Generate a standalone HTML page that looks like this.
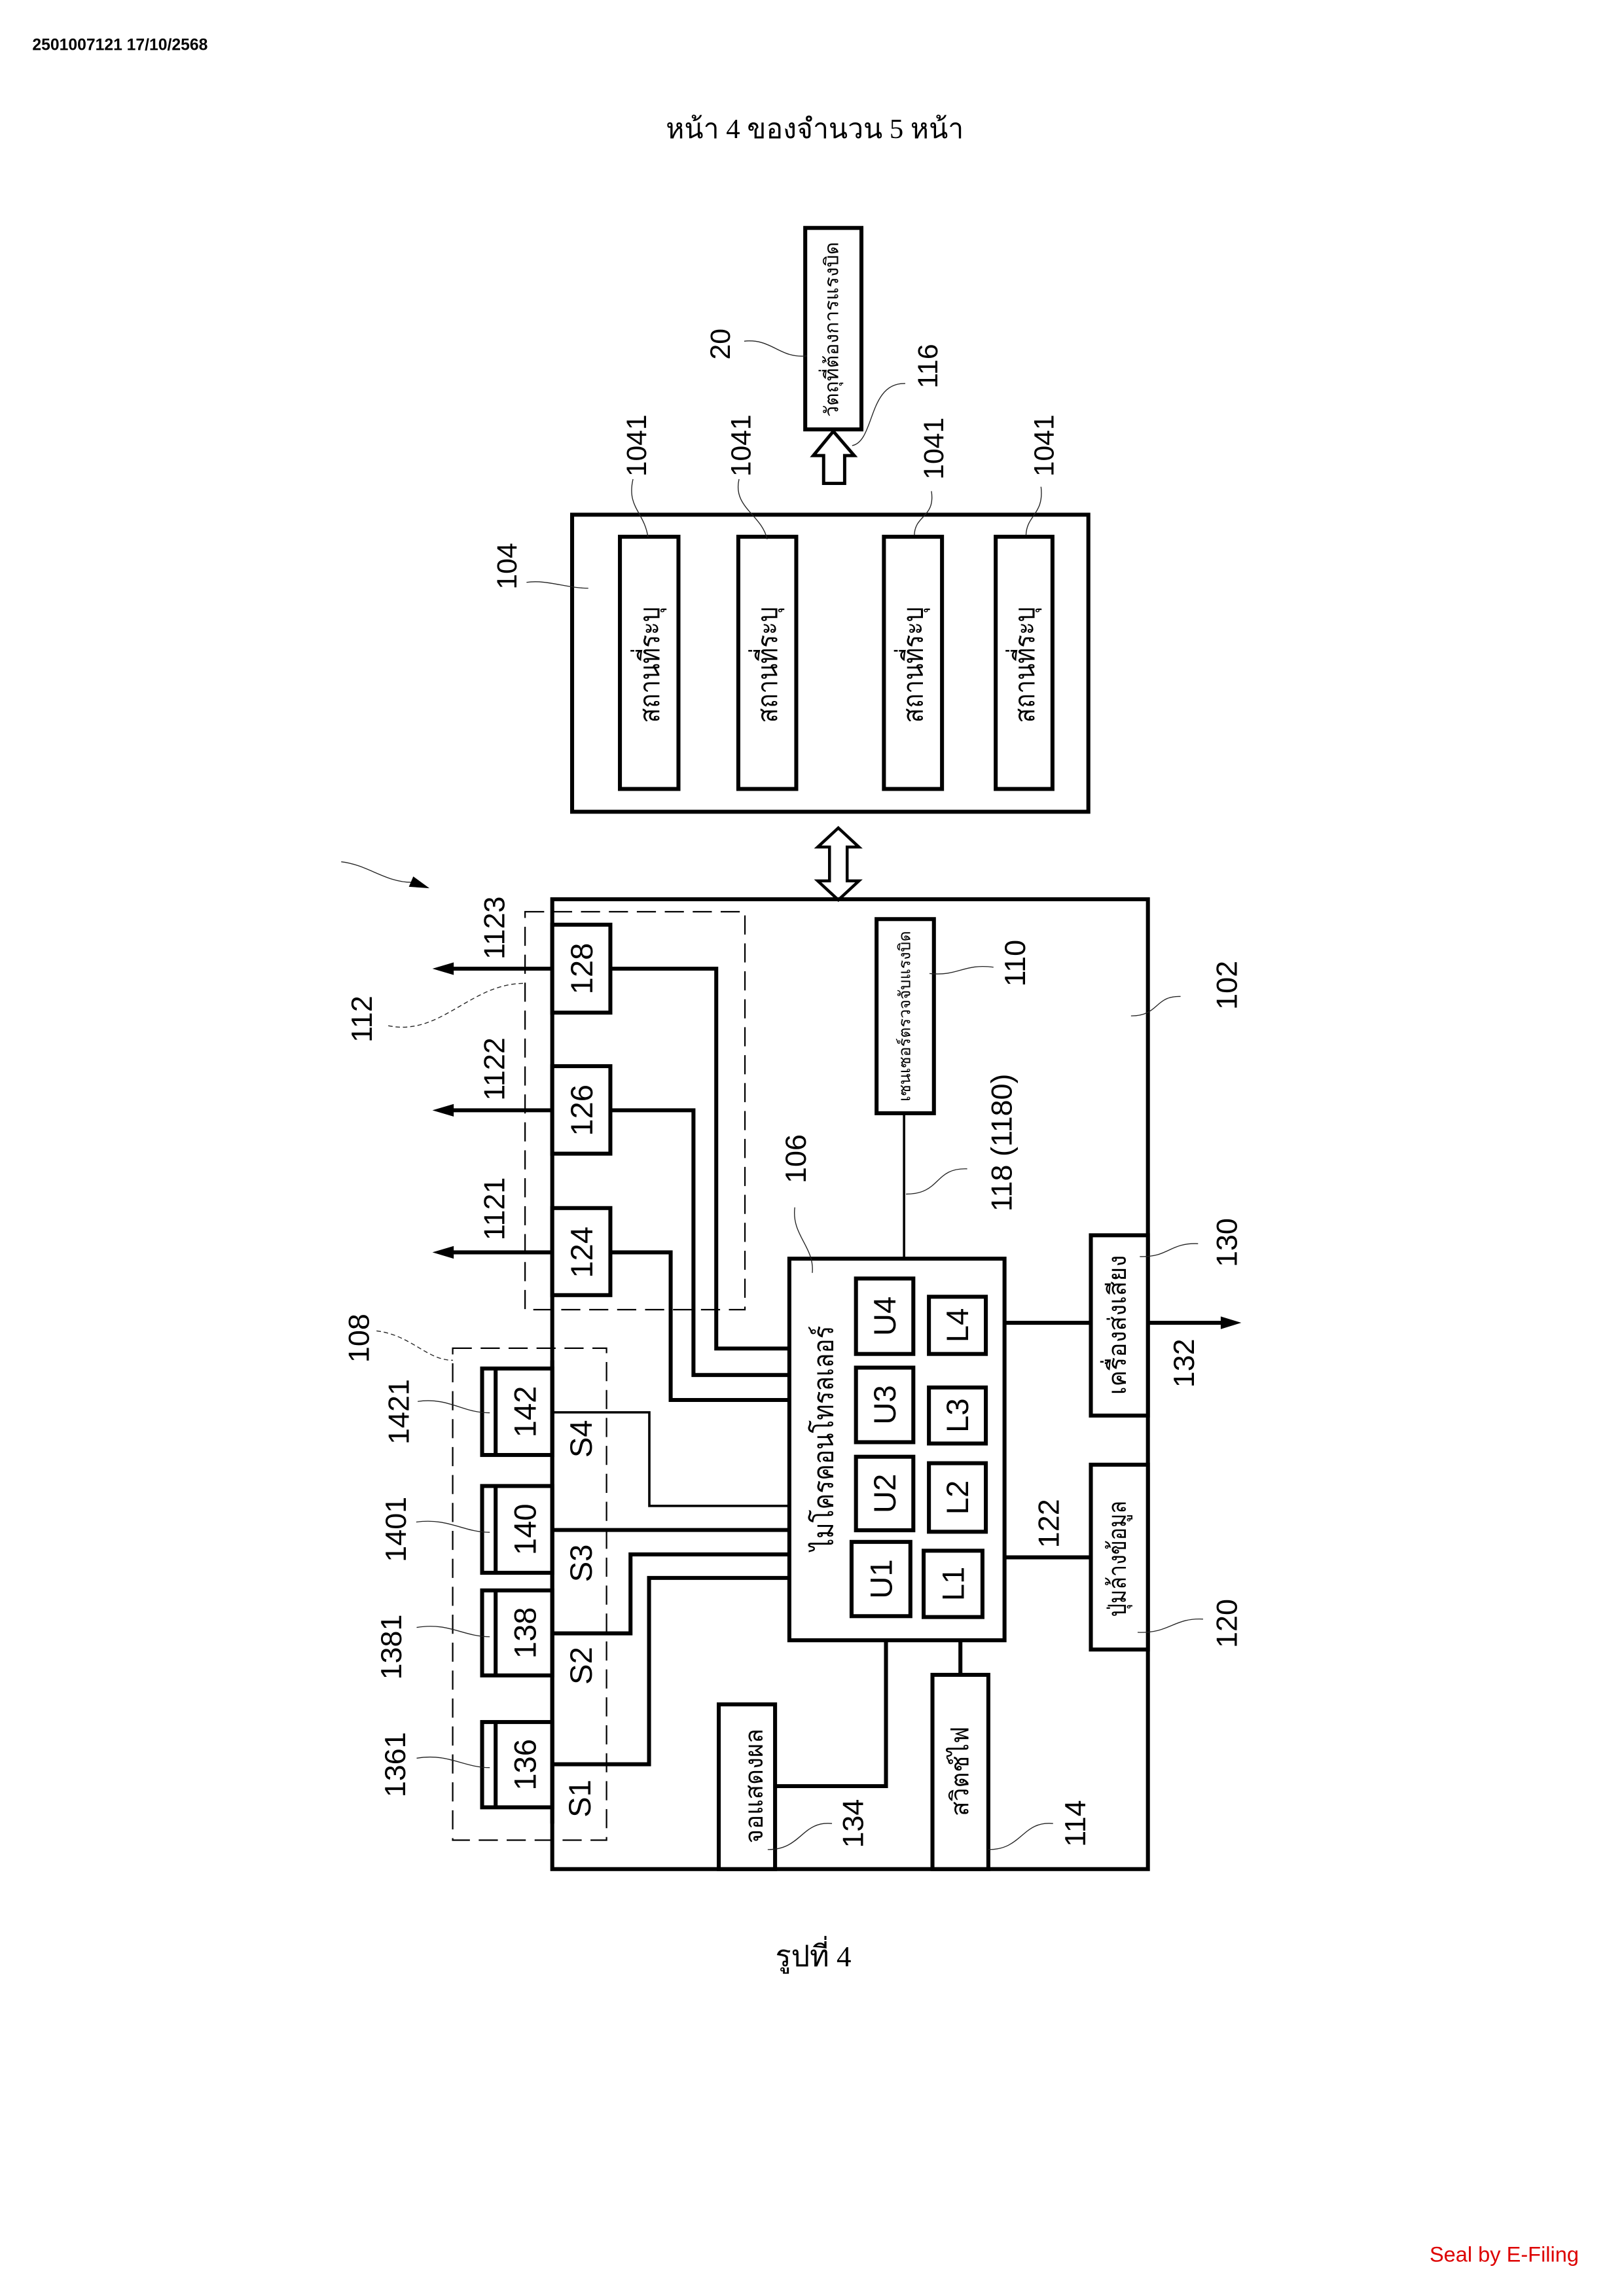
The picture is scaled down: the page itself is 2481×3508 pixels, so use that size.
<!DOCTYPE html>
<html><head><meta charset="utf-8">
<style>
html,body{margin:0;padding:0;background:#fff;}
svg{display:block;}
text{font-family:"Liberation Sans","DejaVu Sans","Noto Sans CJK SC",sans-serif;fill:#000;}
.serif{font-family:"Liberation Serif","DejaVu Serif","Noto Serif CJK SC",serif;}
.k{stroke:#000;fill:none;stroke-width:2.7;}
.kb{stroke:#000;fill:#fff;stroke-width:2.7;}
.t{stroke:#000;fill:none;stroke-width:1.6;}
.l{stroke:#222;fill:none;stroke-width:0.6;}
.ld{stroke:#222;fill:none;stroke-width:0.6;stroke-dasharray:3 2;}
.d{stroke:#000;fill:none;stroke-width:1;stroke-dasharray:13 6;}
</style></head>
<body>
<svg width="2481" height="3508" viewBox="0 0 1104.2 1561.3" preserveAspectRatio="none" xmlns="http://www.w3.org/2000/svg">
<rect x="0" y="0" width="1104.2" height="1561.3" fill="#fff"/>

<text x="22" y="34" font-size="11" font-weight="bold">2501007121 17/10/2568</text>
<text class="serif" x="554" y="94" font-size="19" text-anchor="middle">หน้า 4 ของจำนวน 5 หน้า</text>
<text class="serif" x="553" y="1337" font-size="20" text-anchor="middle">รูปที่ 4</text>
<text x="972" y="1538" font-size="14.5" fill="#d00" style="fill:#d00">Seal by E-Filing</text>

<rect class="kb" x="547.5" y="155" width="38.2" height="137"/>
<text transform="translate(566,224) rotate(-90)" font-size="13" text-anchor="middle" dominant-baseline="central" textLength="119" lengthAdjust="spacingAndGlyphs">วัตถุที่ต้องการแรงบิด</text>
<polygon points="566.6,293.3 580.8,309.8 574.3,309.8 574.3,328.7 560,328.7 560,309.8 553,309.8" fill="#fff" stroke="#000" stroke-width="2.2"/>

<rect class="kb" x="389" y="350" width="351" height="202"/>
<rect class="k" x="421.5" y="365" width="39.8" height="171.5"/>
<rect class="k" x="502" y="365" width="39.4" height="171.5"/>
<rect class="k" x="601" y="365" width="39.5" height="171.5"/>
<rect class="k" x="677" y="365" width="38.6" height="171.5"/>
<g font-size="19">
<text transform="translate(442,452) rotate(-90)" text-anchor="middle" dominant-baseline="central" textLength="79" lengthAdjust="spacingAndGlyphs">สถานที่ระบุ</text>
<text transform="translate(522,452) rotate(-90)" text-anchor="middle" dominant-baseline="central" textLength="79" lengthAdjust="spacingAndGlyphs">สถานที่ระบุ</text>
<text transform="translate(621,452) rotate(-90)" text-anchor="middle" dominant-baseline="central" textLength="79" lengthAdjust="spacingAndGlyphs">สถานที่ระบุ</text>
<text transform="translate(697,452) rotate(-90)" text-anchor="middle" dominant-baseline="central" textLength="79" lengthAdjust="spacingAndGlyphs">สถานที่ระบุ</text>
</g>

<g font-size="19">
<text transform="translate(433,303) rotate(-90)" text-anchor="middle" dominant-baseline="central">1041</text>
<text transform="translate(504,303) rotate(-90)" text-anchor="middle" dominant-baseline="central">1041</text>
<text transform="translate(635,305) rotate(-90)" text-anchor="middle" dominant-baseline="central">1041</text>
<text transform="translate(710,303) rotate(-90)" text-anchor="middle" dominant-baseline="central">1041</text>
<text transform="translate(490,234) rotate(-90)" text-anchor="middle" dominant-baseline="central">20</text>
<text transform="translate(631,249) rotate(-90)" text-anchor="middle" dominant-baseline="central">116</text>
<text transform="translate(345,385) rotate(-90)" text-anchor="middle" dominant-baseline="central">104</text>
</g>
<path class="l" d="M430.4,325.8 C426,345 438,348 440.6,365.3"/>
<path class="l" d="M502.5,325.8 C498,345 518,350 521.6,366.7"/>
<path class="l" d="M633.3,334 C636,352 622,350 621.7,363.9"/>
<path class="l" d="M707.8,331 C710,350 698,350 697.6,364"/>
<path class="l" d="M506,232 C525,230 530,244 548.6,242"/>
<path class="l" d="M615.5,260.8 C590,260 595,300 579.4,303"/>
<path class="l" d="M358,396 C372,394 385,400 400,400"/>

<polygon points="570,563 584,576 576,576 576,599 584,599 570,612 556,599 564,599 564,576 556,576" fill="#fff" stroke="#000" stroke-width="2"/>

<path class="l" d="M232,586 C250,588 262,600 280,600" stroke-width="0.9"/>
<polygon points="292,604 278,603 281,596" fill="#000"/>

<rect class="k" x="375.5" y="611.5" width="405" height="659.5"/>

<rect class="d" x="357" y="620" width="149.5" height="270.6"/>
<rect class="d" x="307.8" y="916.8" width="104.6" height="334.5"/>

<rect class="kb" x="375.5" y="628.8" width="39.5" height="59.8"/>
<rect class="kb" x="375.5" y="725" width="39.5" height="59.5"/>
<rect class="kb" x="375.5" y="821.5" width="39.5" height="59.2"/>
<g font-size="21">
<text transform="translate(395.5,658.7) rotate(-90)" text-anchor="middle" dominant-baseline="central">128</text>
<text transform="translate(395.5,755) rotate(-90)" text-anchor="middle" dominant-baseline="central">126</text>
<text transform="translate(395.5,851.6) rotate(-90)" text-anchor="middle" dominant-baseline="central">124</text>
</g>
<line class="k" x1="375.5" y1="658.7" x2="305" y2="658.7"/>
<line class="k" x1="375.5" y1="755" x2="305" y2="755"/>
<line class="k" x1="375.5" y1="851.6" x2="305" y2="851.6"/>
<polygon points="294,658.7 308.5,654.4 308.5,663" fill="#000"/>
<polygon points="294,755 308.5,750.7 308.5,759.3" fill="#000"/>
<polygon points="294,851.6 308.5,847.3 308.5,855.9" fill="#000"/>

<g>
<rect class="kb" x="327.8" y="930.6" width="47.7" height="58.8"/>
<line class="k" x1="337" y1="930.6" x2="337" y2="989.4"/>
<rect class="kb" x="327.8" y="1010.5" width="47.7" height="59"/>
<line class="k" x1="337" y1="1010.5" x2="337" y2="1069.5"/>
<rect class="kb" x="327.8" y="1081.5" width="47.7" height="57.8"/>
<line class="k" x1="337" y1="1081.5" x2="337" y2="1139.3"/>
<rect class="kb" x="327.8" y="1171" width="47.7" height="58"/>
<line class="k" x1="337" y1="1171" x2="337" y2="1229"/>
</g>
<line class="k" x1="375.5" y1="925" x2="375.5" y2="1240"/>
<g font-size="21">
<text transform="translate(357,960) rotate(-90)" text-anchor="middle" dominant-baseline="central">142</text>
<text transform="translate(357,1040) rotate(-90)" text-anchor="middle" dominant-baseline="central">140</text>
<text transform="translate(357,1110.4) rotate(-90)" text-anchor="middle" dominant-baseline="central">138</text>
<text transform="translate(357,1200) rotate(-90)" text-anchor="middle" dominant-baseline="central">136</text>
<text transform="translate(395,978.4) rotate(-90)" text-anchor="middle" dominant-baseline="central">S4</text>
<text transform="translate(395,1063) rotate(-90)" text-anchor="middle" dominant-baseline="central">S3</text>
<text transform="translate(395,1132.7) rotate(-90)" text-anchor="middle" dominant-baseline="central">S2</text>
<text transform="translate(394,1223) rotate(-90)" text-anchor="middle" dominant-baseline="central">S1</text>
</g>

<polyline class="k" points="415,658.7 487,658.7 487,917 536.7,917"/>
<polyline class="k" points="415,755 471.5,755 471.5,935 536.7,935"/>
<polyline class="k" points="415,851.6 456,851.6 456,952 536.7,952"/>
<polyline class="t" points="375.5,960.4 441.5,960.4 441.5,1024 536.7,1024"/>
<line class="k" x1="375.5" y1="1040.4" x2="536.7" y2="1040.4"/>
<polyline class="k" points="375.5,1110.7 428.7,1110.7 428.7,1057 536.7,1057"/>
<polyline class="k" points="375.5,1199.7 441.3,1199.7 441.3,1073 536.7,1073"/>

<rect class="kb" x="596" y="625" width="39" height="132"/>
<text transform="translate(615.5,691) rotate(-90)" font-size="11" text-anchor="middle" dominant-baseline="central" textLength="116" lengthAdjust="spacingAndGlyphs">เซนเซอร์ตรวจจับแรงบิด</text>
<line class="t" x1="614.7" y1="757" x2="614.7" y2="856"/>

<rect class="kb" x="536.7" y="855.9" width="146.3" height="259.5"/>
<text transform="translate(560,978) rotate(-90)" font-size="19" text-anchor="middle" dominant-baseline="central" textLength="153" lengthAdjust="spacingAndGlyphs">ไมโครคอนโทรลเลอร์</text>
<rect class="k" x="582" y="869.4" width="39" height="51.3"/>
<rect class="k" x="582" y="930" width="39" height="50.7"/>
<rect class="k" x="582" y="990.6" width="39" height="50"/>
<rect class="k" x="579" y="1048.5" width="40" height="50.5"/>
<rect class="k" x="631.6" y="881.8" width="38.7" height="38.9"/>
<rect class="k" x="631.6" y="943.5" width="38.7" height="38.1"/>
<rect class="k" x="631.6" y="995" width="38.7" height="46.6"/>
<rect class="k" x="628" y="1054.5" width="40" height="45.1"/>
<g font-size="21">
<text transform="translate(601.5,895) rotate(-90)" text-anchor="middle" dominant-baseline="central">U4</text>
<text transform="translate(601.5,955.3) rotate(-90)" text-anchor="middle" dominant-baseline="central">U3</text>
<text transform="translate(601.5,1015.6) rotate(-90)" text-anchor="middle" dominant-baseline="central">U2</text>
<text transform="translate(599,1073.7) rotate(-90)" text-anchor="middle" dominant-baseline="central">U1</text>
<text transform="translate(651,901.2) rotate(-90)" text-anchor="middle" dominant-baseline="central">L4</text>
<text transform="translate(651,962.5) rotate(-90)" text-anchor="middle" dominant-baseline="central">L3</text>
<text transform="translate(651,1018.3) rotate(-90)" text-anchor="middle" dominant-baseline="central">L2</text>
<text transform="translate(648,1077) rotate(-90)" text-anchor="middle" dominant-baseline="central">L1</text>
</g>

<rect class="kb" x="741.7" y="840" width="38.8" height="122.6"/>
<rect class="kb" x="741.7" y="996" width="38.8" height="125.7"/>
<text transform="translate(760,901) rotate(-90)" font-size="17" text-anchor="middle" dominant-baseline="central" textLength="95" lengthAdjust="spacingAndGlyphs">เครื่องส่งเสียง</text>
<text transform="translate(760,1060) rotate(-90)" font-size="17" text-anchor="middle" dominant-baseline="central" textLength="79" lengthAdjust="spacingAndGlyphs">ปุ่มล้างข้อมูล</text>
<line class="k" x1="683" y1="899.5" x2="741.7" y2="899.5"/>
<line class="k" x1="780.5" y1="899.5" x2="832" y2="899.5"/>
<polygon points="844,899.5 830,895.2 830,903.8" fill="#000"/>
<line class="k" x1="683" y1="1059" x2="741.7" y2="1059"/>

<rect class="kb" x="488.7" y="1159" width="38.3" height="112"/>
<rect class="kb" x="634" y="1138.9" width="38" height="132.1"/>
<text transform="translate(513,1214.5) rotate(-90)" font-size="17" text-anchor="middle" dominant-baseline="central" textLength="78" lengthAdjust="spacingAndGlyphs">จอแสดงผล</text>
<text transform="translate(653,1204.5) rotate(-90)" font-size="17" text-anchor="middle" dominant-baseline="central" textLength="61" lengthAdjust="spacingAndGlyphs">สวิตช์ไฟ</text>
<polyline class="k" points="527,1214.6 602.4,1214.6 602.4,1115.4"/>
<line class="k" x1="653" y1="1115.4" x2="653" y2="1138.9"/>

<g font-size="20">
<text transform="translate(336,631) rotate(-90)" text-anchor="middle" dominant-baseline="central">1123</text>
<text transform="translate(336,727) rotate(-90)" text-anchor="middle" dominant-baseline="central">1122</text>
<text transform="translate(336,822) rotate(-90)" text-anchor="middle" dominant-baseline="central">1121</text>
<text transform="translate(246,693) rotate(-90)" text-anchor="middle" dominant-baseline="central">112</text>
<text transform="translate(244,910) rotate(-90)" text-anchor="middle" dominant-baseline="central">108</text>
<text transform="translate(271,960) rotate(-90)" text-anchor="middle" dominant-baseline="central">1421</text>
<text transform="translate(269,1040) rotate(-90)" text-anchor="middle" dominant-baseline="central">1401</text>
<text transform="translate(266,1120) rotate(-90)" text-anchor="middle" dominant-baseline="central">1381</text>
<text transform="translate(268.5,1200) rotate(-90)" text-anchor="middle" dominant-baseline="central">1361</text>
<text transform="translate(541,788) rotate(-90)" text-anchor="middle" dominant-baseline="central">106</text>
<text transform="translate(690,655) rotate(-90)" text-anchor="middle" dominant-baseline="central">110</text>
<text transform="translate(681,777) rotate(-90)" text-anchor="middle" dominant-baseline="central">118 (1180)</text>
<text transform="translate(834,670) rotate(-90)" text-anchor="middle" dominant-baseline="central">102</text>
<text transform="translate(834,845) rotate(-90)" text-anchor="middle" dominant-baseline="central">130</text>
<text transform="translate(805,927) rotate(-90)" text-anchor="middle" dominant-baseline="central">132</text>
<text transform="translate(713,1036) rotate(-90)" text-anchor="middle" dominant-baseline="central">122</text>
<text transform="translate(834,1104) rotate(-90)" text-anchor="middle" dominant-baseline="central">120</text>
<text transform="translate(580,1240) rotate(-90)" text-anchor="middle" dominant-baseline="central">134</text>
<text transform="translate(731,1240) rotate(-90)" text-anchor="middle" dominant-baseline="central">114</text>
</g>

<path class="ld" d="M264,697.5 C300,705 320,668 357.6,668.7"/>
<path class="ld" d="M256,905 C280,908 290,925 308,925"/>
<path class="l" d="M284,953 C305,950 315,961 333,960.7"/>
<path class="l" d="M283,1035 C305,1032 315,1042 333,1042"/>
<path class="l" d="M283.3,1106.7 C305,1103 315,1113 333,1113"/>
<path class="l" d="M283.3,1195.6 C305,1192 315,1202 333,1202"/>
<path class="l" d="M540.4,821 C538,840 554,848 552.3,865.6"/>
<path class="l" d="M675.5,657.7 C655,655 652,664 632,662"/>
<path class="l" d="M657.6,794.8 C635,794 640,812 616,812"/>
<path class="l" d="M802.7,677.6 C785,677 788,691 769,690.8"/>
<path class="l" d="M814.6,845.7 C795,845 795,855 775,854.5"/>
<path class="l" d="M818,1101 C798,1100 795,1111 773.5,1110"/>
<path class="l" d="M565.7,1240 C545,1238 545,1258 522,1257.7"/>
<path class="l" d="M716,1240 C695,1238 695,1258 672,1257.7"/>
</svg>
</body></html>
